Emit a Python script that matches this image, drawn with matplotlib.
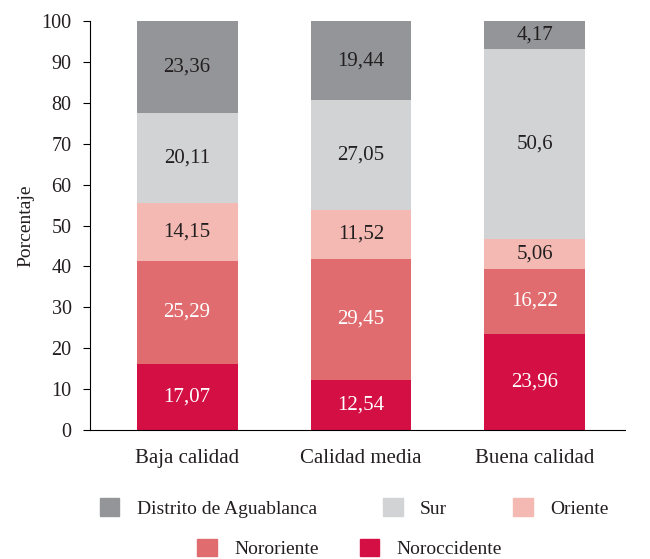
import numpy as np
import matplotlib.pyplot as plt
from matplotlib.patches import Patch

plt.rcParams['font.family'] = ['Liberation Serif', 'DejaVu Serif']

categorias = ["Baja calidad", "Calidad media", "Buena calidad"]
series = ["Noroccidente", "Nororiente", "Oriente", "Sur", "Distrito de Aguablanca"]

# alturas de las barras tal como se ven en la figura
noroccidente = [16.2, 12.2, 23.5]
nororiente = [25.2, 29.6, 15.9]
oriente = [14.2, 12.0, 7.3]
sur = [22.0, 26.9, 46.6]
aguablanca = [22.4, 19.3, 6.7]

# etiquetas impresas sobre cada segmento
et_noroccidente = ["17,07", "12,54", "23,96"]
et_nororiente = ["25,29", "29,45", "16,22"]
et_oriente = ["14,15", "11,52", "5,06"]
et_sur = ["20,11", "27,05", "50,6"]
et_aguablanca = ["23,36", "19,44", "4,17"]

valores = [noroccidente, nororiente, oriente, sur, aguablanca]
etiquetas = [et_noroccidente, et_nororiente, et_oriente, et_sur, et_aguablanca]
colores = ["#D30F44", "#E06C6F", "#F3B9B2", "#D1D3D4", "#939598"]
texto_col = ["white", "white", "#231F20", "#231F20", "#231F20"]
oscuro = "#231F20"

fig = plt.figure(figsize=(6.5, 5.59), dpi=100)
ax = fig.add_axes([0.138, 0.231, 0.824, 0.731])

x = np.arange(len(categorias))
base = np.zeros(len(categorias))
for nombre, vals, ets, c, tc in zip(series, valores, etiquetas, colores, texto_col):
    vals = np.array(vals)
    ax.bar(x, vals, 0.58, bottom=base, color=c, label=nombre)
    for xi, b, v, t in zip(x, base, vals, ets):
        ax.text(xi, b + v / 2, t, ha='center', va='center', color=tc, fontsize=15)
    base += vals

ax.set_xlim(-0.56, 2.52)
ax.set_ylim(0, 100)
ax.set_yticks(range(0, 101, 10))
ax.set_xticks(x)
ax.set_xticklabels(categorias)
ax.tick_params(axis='y', labelsize=14.5, labelcolor=oscuro, color='black', length=5,
               direction='out', pad=8)
ax.tick_params(axis='x', labelsize=15, labelcolor=oscuro, length=0, pad=14)
ax.spines['top'].set_visible(False)
ax.spines['right'].set_visible(False)
ax.set_ylabel("Porcentaje", fontsize=14, color=oscuro, labelpad=5)

orden1 = [4, 3, 2]
orden2 = [1, 0]
h1 = [Patch(color=colores[i], label=series[i]) for i in orden1]
h2 = [Patch(color=colores[i], label=series[i]) for i in orden2]
kw = dict(frameon=False, fontsize=14, handlelength=1.0, handleheight=1.0,
          handletextpad=0.9, labelcolor=oscuro)
fig.legend(handles=h1, ncol=3, loc='center', bbox_to_anchor=(0.545, 0.091),
           columnspacing=3.4, **kw)
fig.legend(handles=h2, ncol=2, loc='center', bbox_to_anchor=(0.538, 0.019),
           columnspacing=2.1, **kw)

fig.savefig("out.png", dpi=100)
